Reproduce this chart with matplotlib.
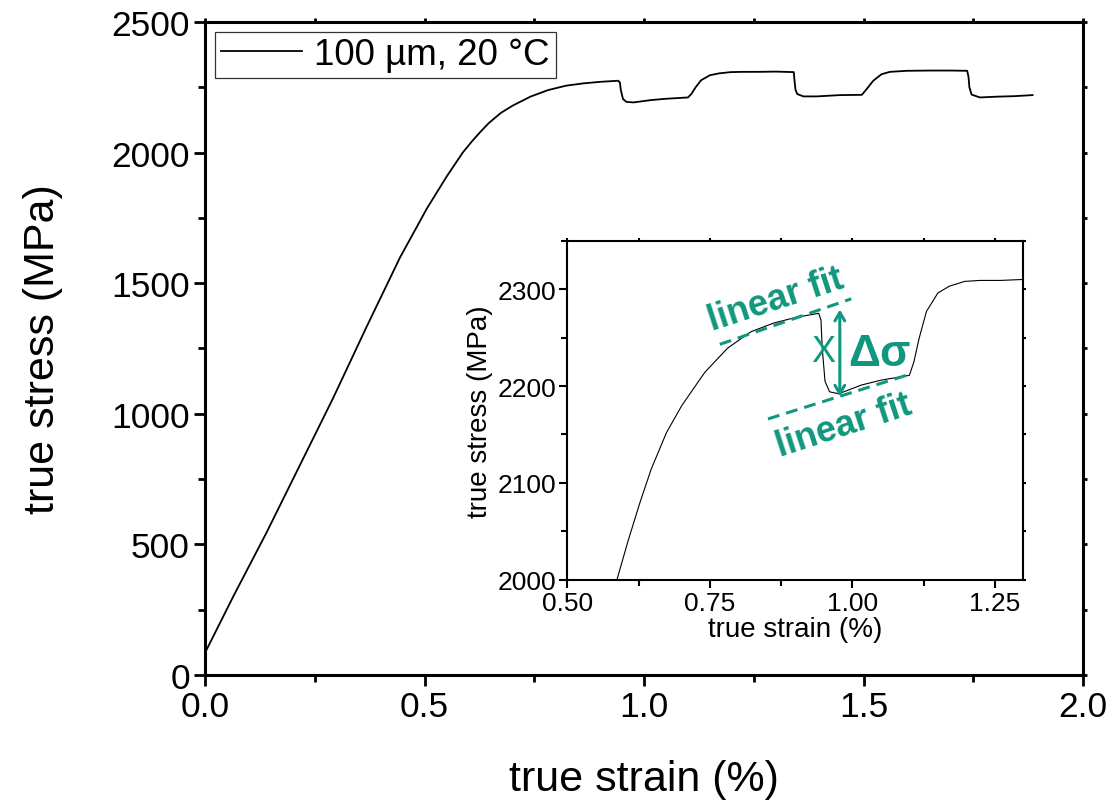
import matplotlib
matplotlib.use("Agg")
import matplotlib.pyplot as plt
from matplotlib.ticker import MultipleLocator, FormatStrFormatter

plt.rcParams['font.family'] = ['Liberation Sans', 'DejaVu Sans']

# ---- data ----
strain = [0.000, 0.065, 0.140, 0.216, 0.292, 0.368, 0.444, 0.505, 0.551, 0.587,
          0.607, 0.627, 0.647, 0.674, 0.701, 0.741, 0.781, 0.822, 0.862, 0.902,
          0.941, 0.945, 0.947, 0.952, 0.960, 0.976, 1.016, 1.050, 1.100, 1.108,
          1.117, 1.130, 1.150, 1.170, 1.197, 1.224, 1.260, 1.300, 1.341, 1.343,
          1.345, 1.349, 1.363, 1.393, 1.446, 1.496, 1.507, 1.522, 1.541, 1.560,
          1.598, 1.650, 1.700, 1.736, 1.739, 1.741, 1.746, 1.765, 1.803, 1.845,
          1.885]
stress = [85, 303, 545, 803, 1061, 1333, 1598, 1785, 1910, 2000,
          2041, 2079, 2114, 2152, 2180, 2214, 2239, 2256, 2265, 2271,
          2275, 2268, 2240, 2205, 2194, 2192, 2201, 2206, 2211, 2225,
          2249, 2277, 2296, 2303, 2308, 2309, 2309, 2310, 2308, 2270,
          2240, 2224, 2215, 2215, 2220, 2221, 2243, 2275, 2300, 2309,
          2313, 2314, 2314, 2313, 2290, 2250, 2222, 2211, 2214, 2216,
          2220]
legend_label = "100 µm, 20 °C"

# linear fits shown in inset (strain, stress end points)
fit_upper_x = [0.7675, 0.998]
fit_upper_y = [2243, 2290]
fit_lower_x = [0.852, 1.100]
fit_lower_y = [2166, 2212]
arrow_x = 0.978
arrow_y = [2279, 2189]

teal = '#11977f'

fig = plt.figure(figsize=(11.12, 8.03), dpi=100)

# ---- main axes ----
ax = fig.add_axes([0.1844, 0.1582, 0.7896, 0.8132])
ax.plot(strain, stress, color='black', lw=1.3, label=legend_label)
ax.set_xlim(0, 2.0)
ax.set_ylim(0, 2500)
ax.xaxis.set_major_locator(MultipleLocator(0.5))
ax.xaxis.set_minor_locator(MultipleLocator(0.25))
ax.yaxis.set_major_locator(MultipleLocator(500))
ax.yaxis.set_minor_locator(MultipleLocator(250))
ax.xaxis.set_major_formatter(FormatStrFormatter('%.1f'))
for s in ax.spines.values():
    s.set_linewidth(2.2)
ax.tick_params(which='major', direction='out', length=8, width=2.0,
               labelsize=25.5, pad=3)
ax.tick_params(which='minor', direction='out', length=5, width=2.0)
ax.tick_params(which='both', top=True, right=True)
ax.tick_params(which='major', labeltop=False, labelright=False)
for t in ax.xaxis.get_major_ticks() + ax.xaxis.get_minor_ticks():
    t.tick2line.set_markersize(3)
for t in ax.yaxis.get_major_ticks() + ax.yaxis.get_minor_ticks():
    t.tick2line.set_markersize(3)

ax.set_xlabel('true strain (%)', fontsize=31)
ax.set_ylabel('true stress (MPa)', fontsize=31)
ax.xaxis.set_label_coords(0.5, -0.128)
ax.yaxis.set_label_coords(-0.162, 0.5)

leg = ax.legend(loc='upper left', bbox_to_anchor=(0.0114, 0.985),
                borderaxespad=0, fontsize=26.5, frameon=True, fancybox=False,
                handlelength=2.2, handletextpad=0.35, borderpad=0.15)
leg.get_frame().set_edgecolor('black')
leg.get_frame().set_linewidth(0.9)

# ---- inset axes ----
ins = fig.add_axes([0.5102, 0.2768, 0.4101, 0.4222])
ins.plot(strain, stress, color='black', lw=0.8)
ins.set_xlim(0.5, 1.3)
ins.set_ylim(2000, 2350)
ins.xaxis.set_major_locator(MultipleLocator(0.25))
ins.xaxis.set_minor_locator(MultipleLocator(0.125))
ins.yaxis.set_major_locator(MultipleLocator(100))
ins.yaxis.set_minor_locator(MultipleLocator(50))
ins.xaxis.set_major_formatter(FormatStrFormatter('%.2f'))
for s in ins.spines.values():
    s.set_linewidth(1.5)
ins.tick_params(which='major', direction='out', length=6, width=1.5,
                labelsize=19, pad=2)
ins.tick_params(which='minor', direction='out', length=4, width=1.5)
ins.tick_params(which='both', top=True, right=True)
for t in ins.xaxis.get_major_ticks() + ins.xaxis.get_minor_ticks():
    t.tick2line.set_markersize(2)
for t in ins.yaxis.get_major_ticks() + ins.yaxis.get_minor_ticks():
    t.tick2line.set_markersize(2)
ins.set_xlabel('true strain (%)', fontsize=20, labelpad=1)
ins.set_ylabel('true stress (MPa)', fontsize=20, labelpad=3)

# annotations
ins.plot(fit_upper_x, fit_upper_y, color=teal, lw=2.2, ls=(0, (3.9, 2.3)))
ins.plot(fit_lower_x, fit_lower_y, color=teal, lw=2.2, ls=(0, (3.9, 2.3)))
ins.annotate('', xy=(arrow_x, arrow_y[0]), xytext=(arrow_x, arrow_y[1]),
             arrowprops=dict(arrowstyle='<->,head_length=0.6,head_width=0.35',
                             color=teal, lw=2.2, shrinkA=0, shrinkB=0))
ins.text(0.866, 2290, 'linear fit', color=teal, fontsize=26, fontweight='bold',
         rotation=18, ha='center', va='center', rotation_mode='anchor')
ins.text(0.986, 2160, 'linear fit', color=teal, fontsize=26, fontweight='bold',
         rotation=18, ha='center', va='center', rotation_mode='anchor')
ins.text(0.9485, 2236, 'X', color=teal, fontsize=26, ha='center', va='center')
ins.text(1.048, 2234, 'Δσ', color=teal, fontsize=32, fontweight='bold',
         ha='center', va='center')

fig.savefig('out.png', dpi=100)
